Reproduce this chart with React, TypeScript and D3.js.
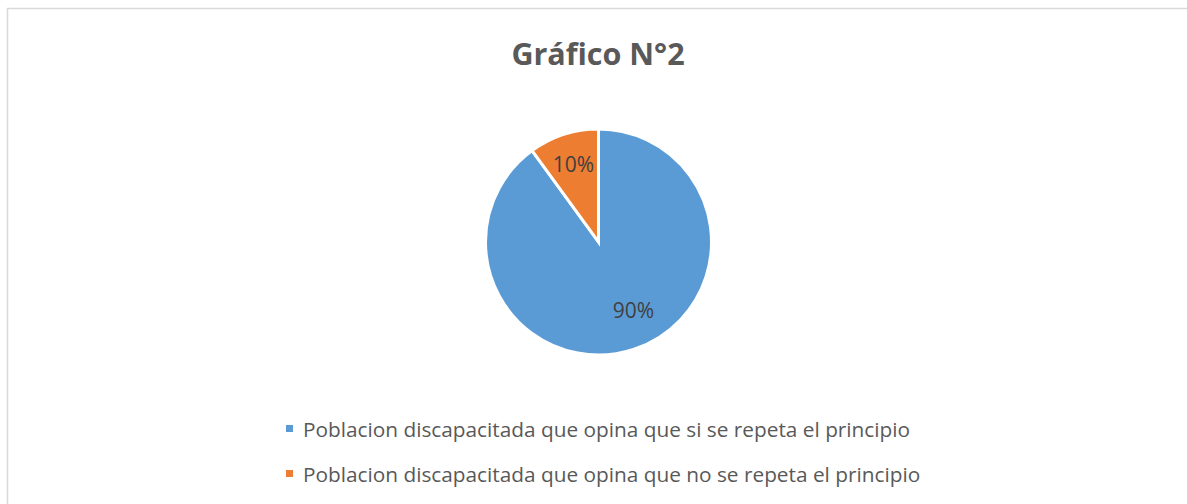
import * as d3 from 'd3';

const WIDTH = 1187;
const HEIGHT = 504;

const title = 'Gráfico N°2';
const categories = [
  'Poblacion discapacitada que opina que si se repeta el principio',
  'Poblacion discapacitada que opina que no se repeta el principio',
];
const values = [90, 10];
const colors = ['#5b9bd5', '#ed7d31'];

const CENTER = { x: 598.5, y: 242 };
const RADIUS = 113;
const FONT = '"Open Sans", sans-serif';
// label placement (fraction of radius, angle nudge in degrees) roughly like Excel's best fit
const LABEL_POS = [
  { r: 0.68, nudge: -9 },
  { r: 0.72, nudge: 0 },
];

export default function App() {
  const pie = d3
    .pie<number>()
    .sort(null)
    .value((d) => d);
  const arcs = pie(values);
  const arc = d3.arc<d3.PieArcDatum<number>>().innerRadius(0).outerRadius(RADIUS);
  const total = d3.sum(values);

  return (
    <svg
      width={WIDTH}
      height={HEIGHT}
      style={{ position: 'absolute', left: 0, top: 0, display: 'block' }}
    >
      <rect x={0} y={0} width={WIDTH} height={HEIGHT} fill="#fff" />
      <rect
        x={7.5}
        y={8.5}
        width={WIDTH + 20}
        height={HEIGHT + 20}
        fill="#fff"
        stroke="#d9d9d9"
        strokeWidth={1.5}
      />
      <text
        x={598}
        y={65}
        textAnchor="middle"
        fontFamily={FONT}
        fontWeight="bold"
        fontSize={30.5}
        fill="#595959"
      >
        {title}
      </text>
      <g transform={`translate(${CENTER.x},${CENTER.y})`}>
        {arcs.map((a, i) => (
          <path key={i} d={arc(a) ?? ''} fill={colors[i]} stroke="#fff" strokeWidth={3} />
        ))}
        {arcs.map((a, i) => {
          const mid = (a.startAngle + a.endAngle) / 2 + (LABEL_POS[i].nudge * Math.PI) / 180;
          const rr = RADIUS * LABEL_POS[i].r;
          const lx = rr * Math.sin(mid);
          const ly = -rr * Math.cos(mid);
          return (
            <text
              key={i}
              x={lx}
              y={ly}
              dy="0.35em"
              textAnchor="middle"
              fontFamily={FONT}
              fontSize={21}
              fill="#404040"
            >
              {`${Math.round((a.data / total) * 100)}%`}
            </text>
          );
        })}
      </g>
      {categories.map((c, i) => (
        <g key={i} transform={`translate(286,${425 + i * 45})`}>
          <rect x={0} y={0} width={7} height={7} fill={colors[i]} />
          <text x={17} y={12} fontFamily={FONT} fontSize={20.8} fill="#595959">
            {c}
          </text>
        </g>
      ))}
    </svg>
  );
}
